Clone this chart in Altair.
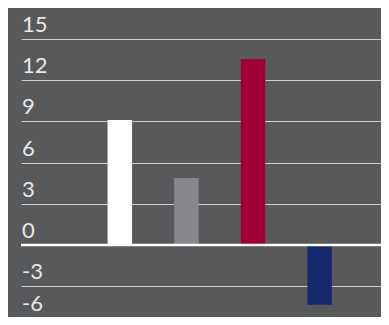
import altair as alt
import pandas as pd

categories = ["A", "B", "C", "D"]
values = [9.1, 4.88, 13.55, -4.35]
colors = ["#ffffff", "#87888b", "#a10034", "#17296e"]
y_ticks = [-6, -3, 0, 3, 6, 9, 12, 15]
y_tick_labels = ["-6", "-3", "0", "3", "6", "9", "12", "15"]

df = pd.DataFrame({"cat": categories, "pos": list(range(1, len(categories) + 1)),
                   "value": values, "color": colors})
ticks_df = pd.DataFrame({"tick": y_ticks, "label": y_tick_labels})

y_min = -5.25
yscale = alt.Scale(domain=[y_min, 15], nice=False, zero=False)

bars = alt.Chart(df).mark_bar(size=24.5).encode(
    x=alt.X("pos:Q", axis=None, scale=alt.Scale(domain=[-0.409, 4.847], nice=False, zero=False)),
    y=alt.Y("value:Q", scale=yscale,
            axis=alt.Axis(values=y_ticks, grid=True, gridColor="#cfcfcf", gridWidth=1.2,
                          ticks=False, domain=False, labels=False, title=None)),
    color=alt.Color("color:N", scale=None),
)

label_style = dict(align="left", font="Lato", fontSize=22, color="#e8e8e8")

labels_in = alt.Chart(ticks_df).mark_text(dy=-7, baseline="alphabetic", **label_style).encode(
    x=alt.value(1),
    y=alt.Y("tick:Q", scale=yscale),
    text="label:N",
).transform_filter(f"datum.tick >= {y_min}")

labels_edge = alt.Chart(ticks_df).mark_text(dy=-11, baseline="bottom", **label_style).encode(
    x=alt.value(1),
    y=alt.Y("tick:Q", scale=yscale),
    text="label:N",
).transform_filter(f"datum.tick < {y_min}")

zero = alt.Chart(pd.DataFrame({"y": [0]})).mark_rule(color="#ffffff", strokeWidth=2.5).encode(
    y=alt.Y("y:Q", scale=yscale)
)

chart = (bars + zero + labels_in + labels_edge).properties(
    width=360, height=278,
    autosize=alt.AutoSizeParams(type="none"),
    padding={"left": 13, "top": 31, "right": 0, "bottom": 0},
    background="#58595b",
).configure_view(stroke=None)

chart.save("out.html", embed_options={"renderer": "svg", "actions": False})
